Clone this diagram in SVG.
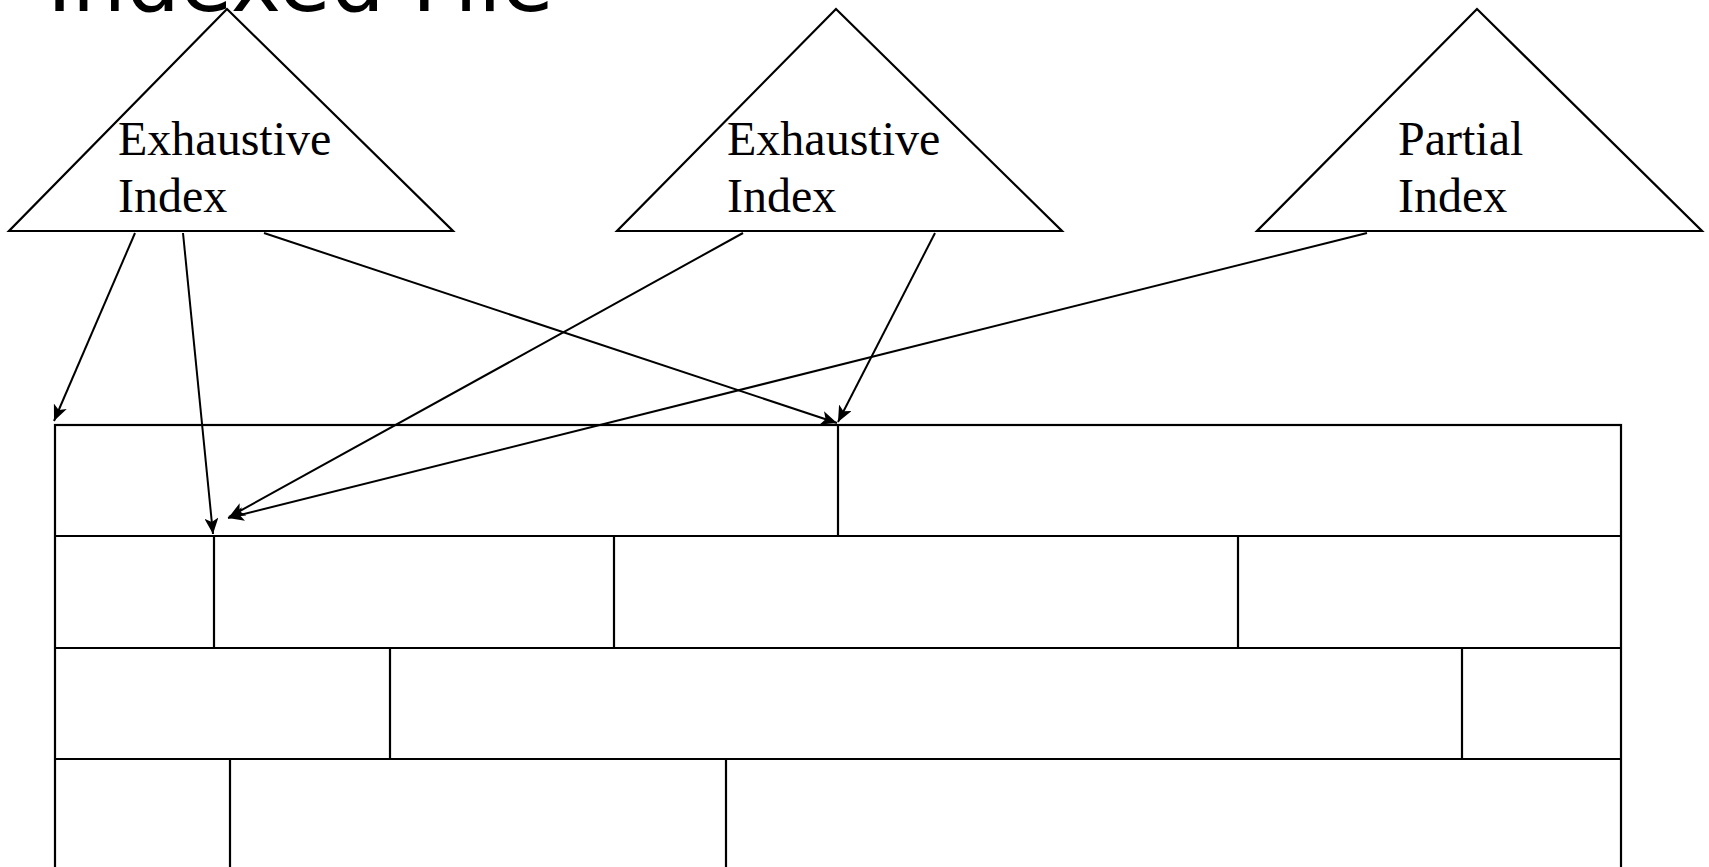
<svg xmlns="http://www.w3.org/2000/svg" width="1709" height="867" viewBox="0 0 1709 867">
<defs>
<style>
.tri{fill:none;stroke:#000;stroke-width:2.2;stroke-linejoin:miter}
.lbl{font-family:"Liberation Serif","Times New Roman",serif;font-size:48px;fill:#000}
.title{font-family:"DejaVu Sans",Verdana,sans-serif;font-size:85px;fill:#000}
.grid{fill:none;stroke:#000;stroke-width:2.2}
.conn{fill:none;stroke:#000;stroke-width:2;marker-end:url(#ah)}
</style>
<marker id="ah" markerUnits="userSpaceOnUse" markerWidth="18" markerHeight="14" refX="16" refY="7" orient="auto">
<path d="M0,0 L16,7 L0,14 L4,7 z" fill="#000"/>
</marker>
</defs>
<rect width="1709" height="867" fill="#fff"/>
<text class="title" x="47" y="11">Indexed File</text>
<g id="idx1">
<polygon class="tri" points="227,9 9,231 453,231"/>
<text class="lbl" x="118" y="155">Exhaustive</text>
<text class="lbl" x="118" y="212">Index</text>
</g>
<g id="idx2">
<polygon class="tri" points="836,9 617,231 1062,231"/>
<text class="lbl" x="727" y="155">Exhaustive</text>
<text class="lbl" x="727" y="212">Index</text>
</g>
<g id="idx3">
<polygon class="tri" points="1477,9 1257,231 1702,231"/>
<text class="lbl" x="1398" y="155">Partial</text>
<text class="lbl" x="1398" y="212">Index</text>
</g>
<g id="file">
<rect class="grid" x="55" y="425" width="1566" height="470"/>
<line class="grid" x1="55" y1="536" x2="1621" y2="536"/>
<line class="grid" x1="55" y1="648" x2="1621" y2="648"/>
<line class="grid" x1="55" y1="759" x2="1621" y2="759"/>
<line class="grid" x1="838" y1="425" x2="838" y2="536"/>
<line class="grid" x1="214" y1="536" x2="214" y2="648"/>
<line class="grid" x1="614" y1="536" x2="614" y2="648"/>
<line class="grid" x1="1238" y1="536" x2="1238" y2="648"/>
<line class="grid" x1="390" y1="648" x2="390" y2="759"/>
<line class="grid" x1="1462" y1="648" x2="1462" y2="759"/>
<line class="grid" x1="230" y1="759" x2="230" y2="895"/>
<line class="grid" x1="726" y1="759" x2="726" y2="895"/>
</g>
<g id="connectors">
<line class="conn" x1="135" y1="233" x2="54" y2="421"/>
<line class="conn" x1="183" y1="233" x2="213" y2="534"/>
<line class="conn" x1="264" y1="233" x2="837" y2="423"/>
<line class="conn" x1="743" y1="233" x2="229" y2="517"/>
<line class="conn" x1="935" y1="233" x2="838" y2="422"/>
<line class="conn" x1="1367" y1="233" x2="228" y2="518"/>
</g>
</svg>
